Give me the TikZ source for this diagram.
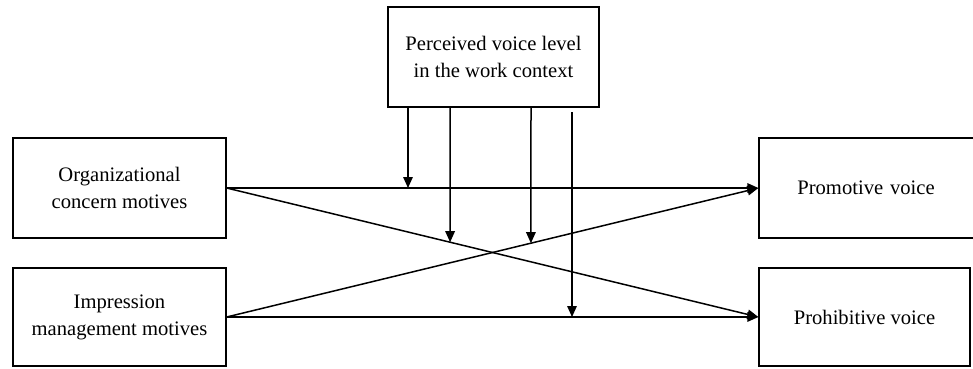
\documentclass[tikz,border=0pt]{standalone}
\usepackage{fontspec}
\setmainfont{Liberation Serif}
\usetikzlibrary{arrows.meta,calc}
\begin{document}
\begin{tikzpicture}[x=1pt,y=-1pt,
  box/.style={draw, line width=1.3pt, rectangle, align=center, inner sep=0pt,
    font=\fontsize{20.6}{27}\selectfont},
  conn/.style={line width=1.5pt, -{Triangle[length=11pt,width=9.5pt]}}]
\useasboundingbox (0,0) rectangle (973,368);
\node[box, minimum width=211pt, minimum height=100pt] (top) at (493.5,57) {Perceived voice level\\in the work context};
\node[box, minimum width=213pt, minimum height=100pt] (tl) at (119.5,188) {Organizational\\concern motives};
\node[box, minimum width=213pt, minimum height=98pt] (bl) at (119.5,317) {Impression\\management motives};
\node[box, minimum width=230pt, minimum height=100pt, text width=230pt] (tr) at (874,188) {\hspace*{-16pt}Promotive voice};
\node[box, minimum width=211pt, minimum height=98pt] (br) at (864.5,317) {Prohibitive voice};
\coordinate (v1) at (408,0);
\coordinate (v2) at (450,0);
\coordinate (v3) at (531,0);
\coordinate (v4) at (572,112);
\draw[conn] (tl.east) -- (tr.west);
\draw[conn] (bl.east) -- (br.west);
\draw[conn] (tl.east) -- (br.west);
\draw[conn] (bl.east) -- (tr.west);
\draw[conn] (top.south -| v1) -- (v1 |- tl.east);
\draw[conn] (top.south -| v2) -- ($(tl.east)!{(450-226)/(759-226)}!(br.west)$);
\draw[conn] (top.south -| v3) -- ($(bl.east)!{(531-226)/(759-226)}!(tr.west)$);
\draw[conn] (v4) -- (v4 |- bl.east);
\end{tikzpicture}
\end{document}
